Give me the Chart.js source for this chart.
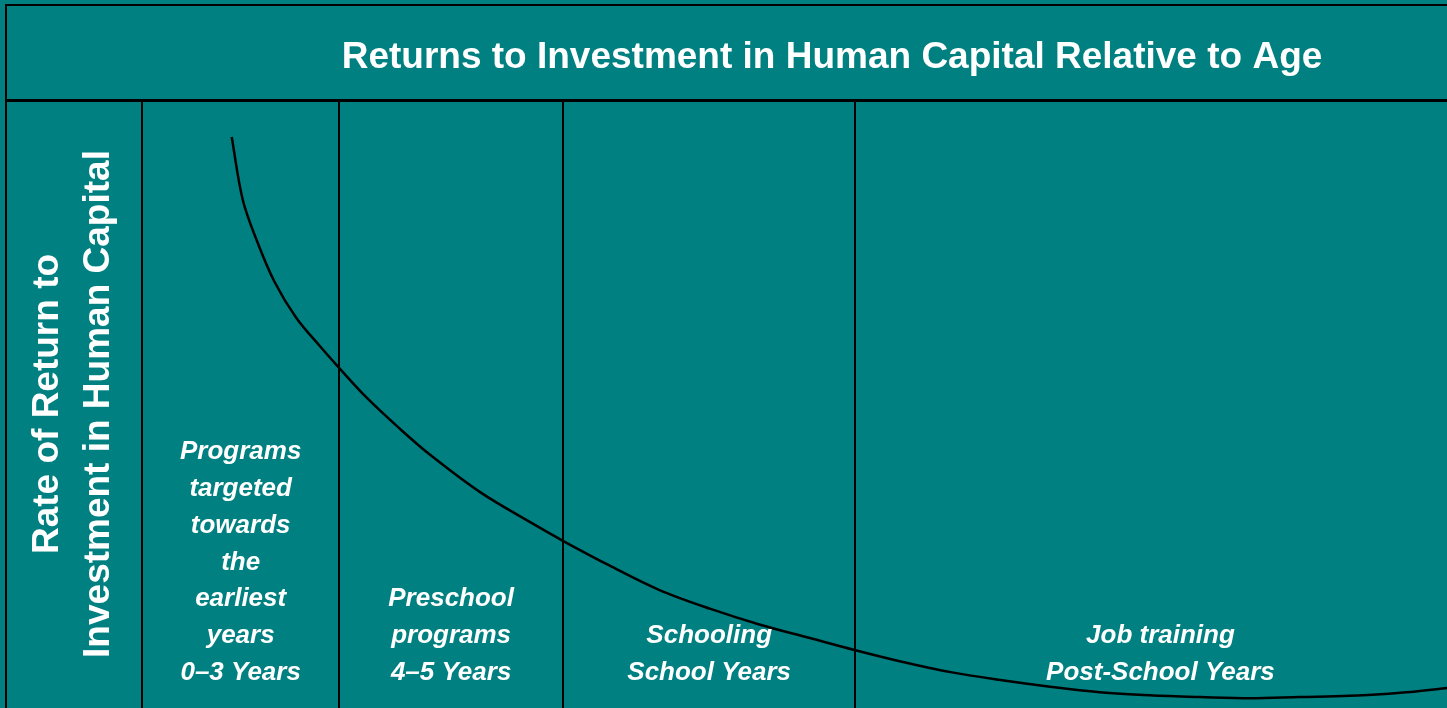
<!DOCTYPE html>
<html>
<head>
<meta charset="utf-8">
<title>Returns to Investment in Human Capital Relative to Age</title>
<script src="https://cdn.jsdelivr.net/npm/chart.js@4.4.1/dist/chart.umd.min.js"></script>
<style>
  html, body { margin: 0; padding: 0; background: #008080; overflow: hidden; }
  canvas { display: block; }
</style>
</head>
<body>
<!-- the slide runs a little past the right edge of the window, as in the original -->
<canvas id="chart" width="1522" height="708"></canvas>
<script>
// position along the life course (0 = left edge of first column), rate of return (0-100)
const stageX = [6.5, 7.3, 8.3, 9.6, 11.2, 12.9, 14.3, 16.3, 18.7, 20.9, 24.5, 28.1, 30.5,
                33.9, 37.5, 41.2, 44.8, 48.4, 51.7, 54.9, 58.6, 62.2, 65.8, 69.4, 73.0,
                76.7, 80.3, 83.9, 87.5, 91.2, 94.6];
const returns = [93.9, 83.6, 77.0, 70.1, 64.1, 59.5, 55.9, 51.0, 45.9, 41.6, 35.5, 30.6, 27.5,
                 23.4, 19.4, 16.3, 13.7, 11.5, 9.5, 7.7, 5.9, 4.6, 3.5, 2.6, 2.1,
                 1.8, 1.6, 1.8, 2.0, 2.5, 3.3];

// column boundaries on the same axis
const stageEdges = [0, 14.3, 30.5, 51.7, 95.9];
const stageLabels = [
  ['Programs', 'targeted', 'towards', 'the', 'earliest', 'years', '0\u20133 Years'],
  ['Preschool', 'programs', '4\u20135 Years'],
  ['Schooling', 'School Years'],
  ['Job training', 'Post-School Years']
];

const chartTitle = 'Returns to Investment in Human Capital Relative to Age';
const yTitle = ['Rate of Return to', 'Investment in Human Capital'];

const FONT = '"Liberation Sans", Arial, sans-serif';
const TEAL = '#008080';

const slideFrame = {
  id: 'slideFrame',
  beforeDraw(chart) {
    const { ctx, width, height, chartArea } = chart;
    ctx.save();
    ctx.fillStyle = TEAL;
    ctx.fillRect(0, 0, width, height);
    ctx.strokeStyle = '#000';
    ctx.lineWidth = 2;
    ctx.strokeRect(6, 5, width + 40, height + 40);
    ctx.lineWidth = 3;
    ctx.beginPath();
    ctx.moveTo(6, chartArea.top + 0.5);
    ctx.lineTo(width, chartArea.top + 0.5);
    ctx.stroke();
    ctx.restore();
  }
};

const stageText = {
  id: 'stageText',
  afterDatasetsDraw(chart) {
    const { ctx, chartArea } = chart;
    const x = chart.scales.x;
    const lineH = 36.8;
    ctx.save();
    ctx.fillStyle = '#fff';
    ctx.font = 'italic bold 26px ' + FONT;
    ctx.textAlign = 'center';
    ctx.textBaseline = 'alphabetic';
    stageLabels.forEach((lines, i) => {
      const cx = x.getPixelForValue((stageEdges[i] + stageEdges[i + 1]) / 2);
      const lastY = chartArea.bottom - 28;
      lines.forEach((t, j) => {
        ctx.fillText(t, cx, lastY - (lines.length - 1 - j) * lineH);
      });
    });
    ctx.restore();
  }
};

new Chart(document.getElementById('chart'), {
  type: 'line',
  data: {
    datasets: [{
      data: stageX.map((v, i) => ({ x: v, y: returns[i] })),
      borderColor: '#000',
      borderWidth: 2.5,
      pointRadius: 0,
      fill: false,
      tension: 0.35
    }]
  },
  options: {
    responsive: false,
    animation: false,
    devicePixelRatio: 1,
    layout: { padding: { left: 7, top: 0, right: 0, bottom: 0 } },
    scales: {
      x: {
        type: 'linear',
        min: 0,
        max: 100,
        ticks: { display: false },
        afterBuildTicks: (scale) => { scale.ticks = stageEdges.map(v => ({ value: v })); },
        grid: { color: '#000', lineWidth: 2, drawTicks: false },
        border: { display: false },
        afterFit: (scale) => { scale.height = 0; }
      },
      y: {
        min: 0,
        max: 100,
        ticks: { display: false },
        grid: { display: false, drawTicks: false },
        border: { display: true, color: '#000', width: 2 },
        title: {
          display: true,
          text: yTitle,
          color: '#fff',
          font: { family: FONT, size: 37, weight: 'bold', lineHeight: 1.38 },
          padding: { top: 15, bottom: 0 }
        },
        afterFit: (scale) => { scale.width = 135; }
      }
    },
    plugins: {
      legend: { display: false },
      tooltip: { enabled: false },
      title: {
        display: true,
        fullSize: false,
        text: chartTitle,
        color: '#fff',
        font: { family: FONT, size: 37, weight: 'bold', lineHeight: 1.2 },
        padding: { top: 36, bottom: 19.6 }
      }
    }
  },
  plugins: [slideFrame, stageText]
});
</script>
</body>
</html>
